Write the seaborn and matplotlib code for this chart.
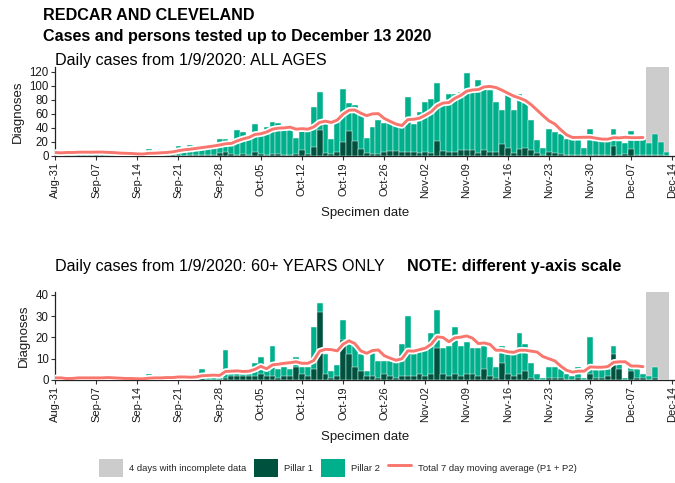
import numpy as np
import pandas as pd
import matplotlib
matplotlib.use("Agg")
import matplotlib.pyplot as plt
import matplotlib.patheffects as pe
from matplotlib.patches import Patch
from matplotlib.lines import Line2D
import seaborn as sns

# ---------------------------------------------------------------- data
start_date = "2020-08-31"
n_days = 105                      # Aug 31 .. Dec 13
last_complete = 100               # index of Dec 09; Dec 10-13 incomplete

# All ages, daily cases by pillar
all_p1 = [0, 0, 1, 0, 1, 0, 0, 1, 0, 0, 0, 0, 1, 0, 0, 0, 1, 0, 0, 1,
          1, 1, 0, 1, 1, 1, 2, 2, 4, 5, 3, 2, 3, 2, 5, 3, 2, 3, 3, 2,
          2, 3, 8, 3, 13, 37, 4, 3, 5, 20, 35, 21, 10, 4, 3, 3, 6, 7, 7, 6,
          6, 5, 4, 5, 4, 22, 7, 5, 5, 8, 9, 9, 4, 8, 5, 6, 17, 12, 4, 10,
          11, 9, 4, 2, 5, 4, 3, 2, 2, 1, 1, 2, 1, 2, 2, 14, 2, 3, 10, 2,
          2, 1, 2, 1, 0]
all_p2 = [5, 4, 5, 5, 6, 6, 5, 5, 4, 3, 3, 2, 3, 3, 2, 3, 9, 4, 6, 6,
          8, 13, 12, 15, 11, 13, 13, 15, 20, 19, 17, 35, 31, 28, 41, 28, 40, 45, 44, 35,
          35, 23, 28, 34, 57, 55, 46, 21, 45, 75, 41, 52, 50, 21, 39, 49, 41, 40, 39, 39,
          78, 41, 59, 72, 78, 82, 66, 84, 83, 84, 110, 86, 104, 91, 89, 71, 49, 77, 62, 78,
          64, 42, 19, 9, 33, 30, 28, 22, 22, 23, 11, 37, 23, 20, 21, 25, 20, 15, 25, 22,
          22, 17, 30, 19, 6]

# 60+ years only, daily cases by pillar
old_p1 = [0, 0, 0, 0, 1, 0, 0, 0, 0, 0, 0, 0, 0, 0, 0, 0, 0, 0, 0, 0,
          0, 0, 0, 0, 0, 1, 0, 0, 0, 1, 2, 2, 2, 2, 2, 3, 2, 2, 1, 2,
          2, 6, 3, 2, 5, 32, 3, 1, 2, 19, 12, 6, 4, 2, 2, 1, 3, 2, 1, 2,
          2, 2, 3, 2, 3, 15, 3, 2, 3, 2, 3, 3, 2, 5, 2, 1, 8, 3, 2, 3,
          4, 1, 0, 0, 1, 1, 1, 0, 0, 1, 0, 3, 1, 1, 2, 12, 5, 0, 4, 1,
          1, 0, 1, 0, 0]
old_p2 = [1, 1, 0, 1, 1, 1, 1, 1, 1, 1, 0, 1, 0, 1, 0, 1, 3, 1, 1, 1,
          1, 2, 1, 2, 2, 4, 2, 2, 1, 13, 1, 1, 1, 1, 6, 8, 4, 14, 4, 4,
          3, 5, 3, 4, 20, 4, 9, 3, 5, 9, 5, 10, 8, 2, 11, 8, 6, 7, 8, 15,
          28, 10, 11, 12, 19, 18, 12, 14, 22, 14, 15, 12, 13, 12, 9, 5, 8, 10, 11, 19,
          13, 7, 3, 1, 5, 5, 4, 3, 2, 5, 1, 17, 4, 4, 3, 4, 3, 1, 2, 4,
          2, 2, 5, 0, 0]

tick_step = 7
tick_dates = pd.date_range(start_date, periods=16, freq="7D")
tick_labels = [d.strftime("%b-%d") for d in tick_dates]

# ---------------------------------------------------------------- style
sns.set_style("ticks")
plt.rcParams["font.family"] = ["Liberation Sans", "DejaVu Sans"]

C_P1 = "#01513F"
C_P2 = "#00AF8C"
C_GREY = "#CCCCCC"
C_LINE = "#F8766D"
C_TXT = "#1A1A1A"

W, H = 675, 483
fig = plt.figure(figsize=(W / 100, H / 100), dpi=100)


def frame(p1, p2):
    df = pd.DataFrame({"day": np.arange(n_days), "p1": p1, "p2": p2})
    df["total"] = df["p1"] + df["p2"]
    df["avg"] = df["total"].rolling(7, min_periods=1).mean()
    return df


def panel(rect_px, df, ymax, yticks):
    left, top, right, bottom = rect_px
    ax = fig.add_axes([left / W, 1 - bottom / H, (right - left) / W, (bottom - top) / H])
    ax.axvspan(last_complete + 0.5, n_days - 0.5, color=C_GREY, lw=0, zorder=0)
    sns.barplot(data=df, x="day", y="total", color=C_P2, saturation=1, width=1.0,
                edgecolor="#E8F7F2", linewidth=0.35, errorbar=None, ax=ax, zorder=2)
    sns.barplot(data=df, x="day", y="p1", color=C_P1, saturation=1, width=1.0,
                edgecolor="#E8F7F2", linewidth=0.35, errorbar=None, ax=ax, zorder=3)
    line_df = df[df["day"] <= last_complete]
    sns.lineplot(data=line_df, x="day", y="avg", color=C_LINE, lw=2.1, ax=ax, zorder=5,
                 path_effects=[pe.Stroke(linewidth=4.6, foreground="white"), pe.Normal()])
    ax.set_xlim(0, n_days + 0.45)
    ax.set_ylim(0, ymax)
    ax.set_xticks(np.arange(0, n_days + 1, tick_step))
    ax.set_xticklabels(tick_labels, rotation=90, fontsize=8, color=C_TXT)
    ax.set_yticks(yticks)
    ax.set_yticklabels([str(v) for v in yticks], fontsize=8.3, color=C_TXT)
    ax.tick_params(length=3, width=0.8, color="#333333", pad=1.5)
    for s in ("top", "right"):
        ax.spines[s].set_visible(False)
    for s in ("left", "bottom"):
        ax.spines[s].set_color("#222222")
        ax.spines[s].set_linewidth(0.9)
    ax.set_xlabel("Specimen date", fontsize=9.5, color=C_TXT, labelpad=6)
    ax.set_ylabel("Diagnoses", fontsize=9.5, color=C_TXT, labelpad=4)
    return ax


all_df = frame(all_p1, all_p2)
old_df = frame(old_p1, old_p2)

ax1 = panel((55, 67, 675, 156), all_df, 127, [0, 20, 40, 60, 80, 100, 120])
ax2 = panel((55, 292, 675, 380), old_df, 41.4, [0, 10, 20, 30, 40])

# ---------------------------------------------------------------- titles
fig.text(43 / W, 1 - 16 / H, "REDCAR AND CLEVELAND", fontsize=11.6, fontweight="bold",
         color="black", va="center", ha="left")
fig.text(43 / W, 1 - 36 / H, "Cases and persons tested up to December 13 2020", fontsize=11.6,
         fontweight="bold", color="black", va="center", ha="left")
fig.text(55 / W, 1 - 60 / H, "Daily cases from 1/9/2020: ALL AGES", fontsize=11.6,
         color="black", va="center", ha="left")
fig.text(55 / W, 1 - 266 / H, "Daily cases from 1/9/2020: 60+ YEARS ONLY", fontsize=11.6,
         color="black", va="center", ha="left")
fig.text(407 / W, 1 - 266 / H, "NOTE: different y-axis scale", fontsize=11.6,
         fontweight="bold", color="black", va="center", ha="left")

# ---------------------------------------------------------------- legend
handles = [
    Patch(facecolor=C_GREY, edgecolor="none"),
    Patch(facecolor=C_P1, edgecolor="none"),
    Patch(facecolor=C_P2, edgecolor="none"),
    Line2D([0], [0], color=C_LINE, lw=2.1),
]
labels = ["4 days with incomplete data", "Pillar 1", "Pillar 2",
          "Total 7 day moving average (P1 + P2)"]
fig.legend(handles, labels, loc="center", bbox_to_anchor=(338 / W, 1 - 468 / H), ncol=4,
           frameon=False, fontsize=6.8, handlelength=2.5, handleheight=2.7,
           handletextpad=0.7, columnspacing=0.8, borderaxespad=0)

fig.savefig("out.png", dpi=100)
